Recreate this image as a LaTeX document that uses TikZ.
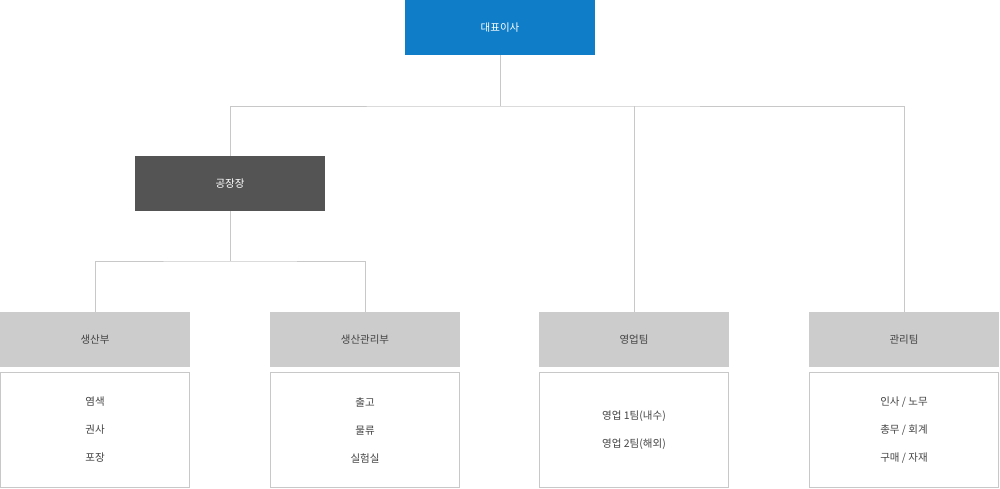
\documentclass[tikz,border=0pt]{standalone}
\usepackage{fontspec}
\setmainfont{Noto Sans CJK KR}
\definecolor{ceoblue}{HTML}{0F7DC8}
\definecolor{factgray}{HTML}{545454}
\definecolor{deptgray}{HTML}{CCCCCC}
\definecolor{linegray}{HTML}{C8C8C8}
\definecolor{txtgray}{HTML}{444444}
\tikzset{
  headbox/.style={minimum width=190pt, minimum height=55pt, inner sep=0pt, font=\fontsize{10.5}{12}\selectfont},
  deptbox/.style={headbox, fill=deptgray, text=txtgray},
  subbox/.style={draw=linegray, line width=0.8pt, fill=white, minimum width=189pt, minimum height=115pt, inner sep=0pt, align=center, text=txtgray, font=\fontsize{10.5}{28}\selectfont},
  link/.style={draw=linegray, line width=0.8pt}
}
\begin{document}
\begin{tikzpicture}[x=1pt, y=-1pt]
  \useasboundingbox (0,0) rectangle (1000,489);
  % NODES
  \node[headbox, fill=ceoblue, text=white] (ceo) at (500,27.5) {대표이사};
  \node[headbox, fill=factgray, text=white] (fact) at (230,183.5) {공장장};
  \node[deptbox] (prod) at (95,339.5) {생산부};
  \node[deptbox] (prodmgmt) at (365,339.5) {생산관리부};
  \node[deptbox] (sales) at (634,339.5) {영업팀};
  \node[deptbox] (admin) at (904,339.5) {관리팀};
  \node[subbox] (prod_sub) at (95,430) {염색\\권사\\포장};
  \node[subbox] (prodmgmt_sub) at (365,430) {출고\\물류\\실험실};
  \node[subbox] (sales_sub) at (634,430) {영업 1팀(내수)\\영업 2팀(해외)};
  \node[subbox] (admin_sub) at (904,430) {인사 / 노무\\총무 / 회계\\구매 / 자재};
  % EDGES
  \coordinate (top_bus) at (500,106);
  \coordinate (fact_bus) at (230,261);
  \draw[link] (ceo.south) -- (top_bus);
  \draw[link] (fact.north) |- (top_bus) -| (admin.north);
  \draw[link] (sales.north) -- (sales.north |- top_bus);
  \draw[link] (fact.south) -- (fact_bus);
  \draw[link] (prod.north) |- (fact_bus) -| (prodmgmt.north);
\end{tikzpicture}
\end{document}
